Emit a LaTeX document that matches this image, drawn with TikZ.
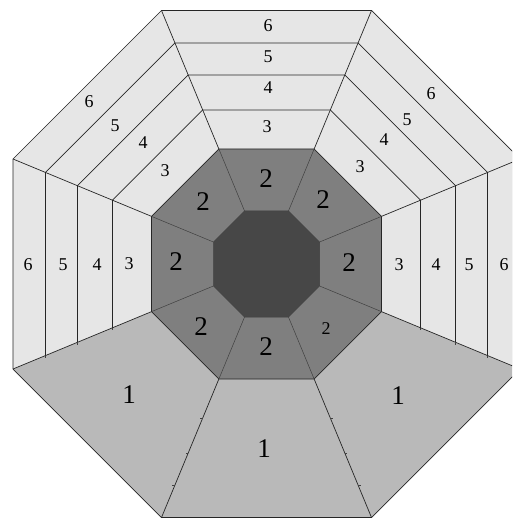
\documentclass[tikz,border=0pt]{standalone}
\usepackage{fontspec}
\setmainfont{Liberation Serif}
\newfontfamily\labfont{Liberation Serif}
\definecolor{cdark}{HTML}{474747}
\definecolor{cmid}{HTML}{7F7F7F}
\definecolor{cone}{HTML}{B9B9B9}
\definecolor{clight}{HTML}{E6E6E6}
\begin{document}
\begin{tikzpicture}[x=1pt,y=-1pt,line join=round,
  edge/.style={draw=black!85,line width=0.7pt},
  thin/.style={draw=black!75,line width=0.5pt},
  big/.style={font=\labfont\fontsize{27}{27}\selectfont,inner sep=0pt},
  small/.style={font=\labfont\fontsize{18}{18}\selectfont,inner sep=0pt}]
\useasboundingbox (0,0) rectangle (512,518);
\clip (0,0) rectangle (512,518);
\def\cx{266.5}\def\cy{264}
\foreach \n/\a in {1/53,2/115,3/154,4/189,5/221,6/253.5}{
  \pgfmathsetmacro\h{\a*0.414214}
  \coordinate (TL\n) at ({\cx-\h},{\cy-\a});
  \coordinate (TR\n) at ({\cx+\h},{\cy-\a});
  \coordinate (RT\n) at ({\cx+\a},{\cy-\h});
  \coordinate (RB\n) at ({\cx+\a},{\cy+\h});
  \coordinate (BR\n) at ({\cx+\h},{\cy+\a});
  \coordinate (BL\n) at ({\cx-\h},{\cy+\a});
  \coordinate (LB\n) at ({\cx-\a},{\cy+\h});
  \coordinate (LT\n) at ({\cx-\a},{\cy-\h});
}
% fills
\fill[cone] (TL6)--(TR6)--(RT6)--(RB6)--(BR6)--(BL6)--(LB6)--(LT6)--cycle;
\fill[clight] (LB6)--(LT6)--(TL6)--(TR6)--(RT6)--(RB6)--(RB2)--(RT2)--(TR2)--(TL2)--(LT2)--(LB2)--cycle;
\fill[cmid] (TL2)--(TR2)--(RT2)--(RB2)--(BR2)--(BL2)--(LB2)--(LT2)--cycle;
\fill[cdark] (TL1)--(TR1)--(RT1)--(RB1)--(BR1)--(BL1)--(LB1)--(LT1)--cycle;
% ring lines
\foreach \n in {3,4,5}{
  \draw[edge] (LB\n)--(LT\n)--(TL\n)--(TR\n)--(RT\n)--(RB\n);
}
\draw[edge] (TL6)--(TR6)--(RT6)--(RB6)--(BR6)--(BL6)--(LB6)--(LT6)--cycle;
\draw[edge] (TL2)--(TR2)--(RT2)--(RB2)--(BR2)--(BL2)--(LB2)--(LT2)--cycle;
\draw[thin] (TL1)--(TR1)--(RT1)--(RB1)--(BR1)--(BL1)--(LB1)--(LT1)--cycle;
% radial lines
\foreach \v in {TL,TR,RT,RB,BR,BL,LB,LT}{
  \draw[thin] (\v1)--(\v2);
  \draw[edge] (\v2)--(\v6);
}
% small stubs on the boundaries of the bottom sectors
\foreach \n in {3,4,5}{
  \draw[thin] (BL\n) -- ++(-2.5,0);
  \draw[thin] (BR\n) -- ++(2.5,0);
  \draw[thin] (LB\n) -- ++(0,2.5);
  \draw[thin] (RB\n) -- ++(0,2.5);
}
% labels: top sector
\node[small] (t6) at (268,26) {6};
\node[small] (t5) at (268,57) {5};
\node[small] (t4) at (268,88) {4};
\node[small] (t3) at (267,127) {3};
% upper-left sector
\node[small] (ul6) at (89,102) {6};
\node[small] (ul5) at (115,126) {5};
\node[small] (ul4) at (143,143) {4};
\node[small] (ul3) at (165,171) {3};
% upper-right sector
\node[small] (ur6) at (431,94) {6};
\node[small] (ur5) at (407,120) {5};
\node[small] (ur4) at (384,140) {4};
\node[small] (ur3) at (360,167) {3};
% left sector
\node[small] (l6) at (28,265) {6};
\node[small] (l5) at (63,265) {5};
\node[small] (l4) at (97,265) {4};
\node[small] (l3) at (129,264) {3};
% right sector
\node[small] (r3) at (399,265) {3};
\node[small] (r4) at (436,265) {4};
\node[small] (r5) at (469,265) {5};
\node[small] (r6) at (504,265) {6};
% ring 2
\node[big] (m1) at (266,179) {2};
\node[big] (m2) at (323,200) {2};
\node[big] (m3) at (349,263) {2};
\node[small] (m4) at (326,329) {2};
\node[big] (m5) at (266,347) {2};
\node[big] (m6) at (201,327) {2};
\node[big] (m7) at (176,262) {2};
\node[big] (m8) at (203,202) {2};
% sectors 1
\node[big] (o1) at (129,395) {1};
\node[big] (o2) at (398,396) {1};
\node[big] (o3) at (264,449) {1};
\end{tikzpicture}
\end{document}
